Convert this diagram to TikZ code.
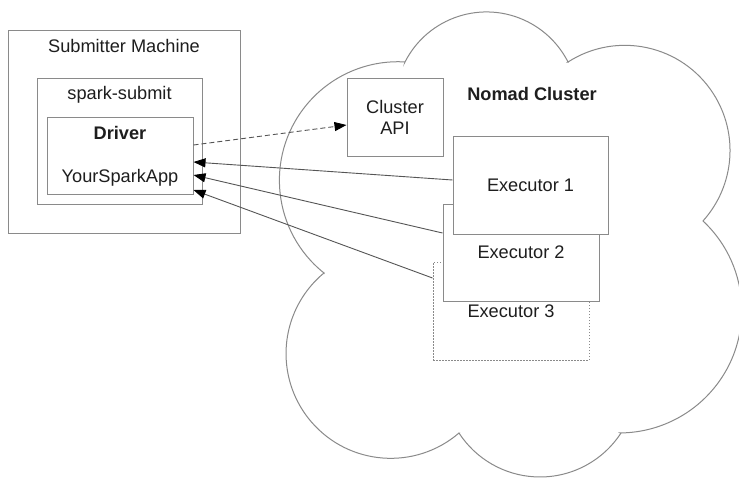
\documentclass[tikz,border=0pt]{standalone}
\usepackage{fontspec}
\setmainfont{Liberation Sans}
\usetikzlibrary{arrows.meta}
\definecolor{boxgray}{HTML}{8A8A8A}
\definecolor{txt}{HTML}{1E1E1E}
\definecolor{linegray}{HTML}{555555}
\begin{document}
\begin{tikzpicture}[x=1pt,y=-1pt,
  font=\fontsize{18.2}{21}\selectfont, text=txt,
  box/.style={draw=boxgray, line width=1pt, fill=white, inner sep=0pt},
  lbl/.style={inner sep=0pt},
  conn/.style={draw=linegray, line width=0.9pt, -{Triangle[length=12pt,width=9pt,color=black]}}]
\useasboundingbox (0,0) rectangle (739,479);

% cloud
\draw[boxgray, line width=1pt, fill=white]
 (405,62) arc[start angle=153.1, end angle=26.9, radius=91.4pt]
 -- (568,62) arc[start angle=122.7, end angle=-42.0, radius=105.2pt]
 -- (703,221) arc[start angle=46.9, end angle=-89.3, radius=122.5pt]
 -- (621,433) arc[start angle=-33, end angle=-147, radius=96.6pt]
 -- (459,433) arc[start angle=-49.3, end angle=-230.4, radius=104.7pt]
 -- (324,273) arc[start angle=-128.6, end angle=-273.4, radius=118.6pt]
 -- cycle;

% submitter side
\node[box, minimum width=232pt, minimum height=203pt] (sub) at (124,131.5) {};
\node[lbl] (sublbl) at (124,46) {Submitter Machine};
\node[box, minimum width=165pt, minimum height=126pt] (spark) at (119.5,141) {};
\node[lbl] (sparklbl) at (119.5,95) {spark-submit};
\node[box, minimum width=146pt, minimum height=77pt] (driver) at (120,155.5) {};
\node[lbl, font=\fontsize{18.2}{21}\selectfont\bfseries] (drvlbl) at (120,133) {Driver};
\node[lbl] (applbl) at (120,178) {YourSparkApp};

% cluster side
\node[box, minimum width=96pt, minimum height=78pt, align=center] (api) at (395,117) {Cluster\\API};
\node[lbl, font=\fontsize{18.2}{21}\selectfont\bfseries] (nomad) at (532,94) {Nomad Cluster};
\node[box, draw=boxgray, dash pattern=on 1.5pt off 1.5pt, minimum width=156pt, minimum height=98pt] (exec3) at (511,311) {Executor 3};
\node[box, minimum width=156pt, minimum height=97pt] (exec2) at (521,252.5) {Executor 2};
\node[box, minimum width=155pt, minimum height=98pt] (exec1) at (530.5,185) {Executor 1};

% connectors
\draw[conn] ([yshift=5pt]exec1.west) -- ([yshift=-6.5pt]driver.east);
\draw[conn] ([yshift=19.5pt]exec2.west) -- ([yshift=-19.5pt]driver.east);
\draw[conn] ([yshift=33pt]exec3.west) -- ([yshift=-34.5pt]driver.east);
\draw[conn, dash pattern=on 5pt off 3pt] ([yshift=10.5pt]driver.east) -- ([yshift=-8pt]api.west);
\end{tikzpicture}
\end{document}
